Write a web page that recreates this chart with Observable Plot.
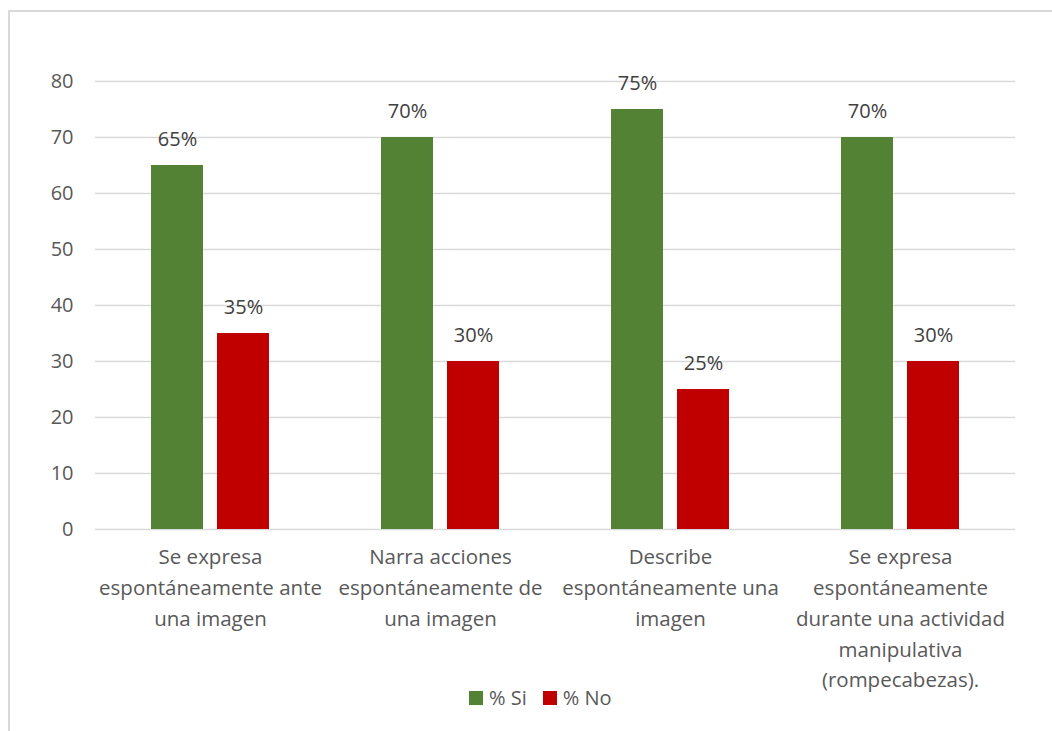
<!DOCTYPE html>
<html><head><meta charset="utf-8">
<script src="https://cdn.jsdelivr.net/npm/d3@7"></script>
<script src="https://cdn.jsdelivr.net/npm/@observablehq/plot@0.6"></script>
<style>
body{margin:0;background:#fff;font-family:"Open Sans",sans-serif;overflow:hidden;}
#frame{position:absolute;left:8px;top:10px;width:1100px;height:800px;border-top:2px solid #d9d9d9;border-left:2px solid #d9d9d9;}
#chart{position:absolute;left:0;top:0;}
#legend{position:absolute;top:684px;left:469px;display:flex;align-items:center;font-size:20px;color:#595959;font-family:"Open Sans",sans-serif;z-index:2;}
#legend .sw{width:14px;height:14px;display:inline-block;margin-right:6px;}
#legend .it{display:flex;align-items:center;margin-right:16px;}
</style></head>
<body>
<div id="frame"></div>
<div id="chart"></div>
<div id="legend"></div>
<script>
const categories = [
  "Se expresa\nespontáneamente ante\nuna imagen",
  "Narra acciones\nespontáneamente de\nuna imagen",
  "Describe\nespontáneamente una\nimagen",
  "Se expresa\nespontáneamente\ndurante una actividad\nmanipulativa\n(rompecabezas)."
];
const series = ["% Si", "% No"];
const colors = ["#548235", "#C00000"];
const si = [65, 70, 75, 70];
const no = [35, 30, 25, 30];
const yTicks = [0, 10, 20, 30, 40, 50, 60, 70, 80];

const data = categories.flatMap((c, i) => [
  {cat: c, s: series[0], v: si[i]},
  {cat: c, s: series[1], v: no[i]}
]);

const chart = Plot.plot({
  width: 1052, height: 731,
  marginLeft: 95, marginRight: 37, marginTop: 81, marginBottom: 202,
  style: {fontFamily: "Open Sans", fontSize: "20px", color: "#595959", background: "transparent"},
  fx: {domain: categories, padding: 0, axis: null, label: null},
  x: {domain: series, axis: null, paddingInner: 0.21, paddingOuter: 0.84},
  y: {domain: [0, 80], ticks: yTicks, axis: "left", label: null, tickSize: 0, tickPadding: 22, fontSize: 20},
  color: {domain: series, range: colors},
  marks: [
    Plot.ruleY(yTicks, {y: d => d, stroke: "#d9d9d9", strokeWidth: 1.5}),
    Plot.barY(data, {fx: "cat", x: "s", y: "v", fill: "s"}),
    Plot.text(data, {fx: "cat", x: "s", y: "v", text: d => d.v + "%", dy: -26, fill: "#404040", fontSize: 20}),
    Plot.axisFx({anchor: "bottom", tickSize: 0, tickPadding: 13, lineHeight: 1.5, fontSize: 20.5, label: null, fill: "#595959"})
  ]
});
document.getElementById("chart").append(chart);

const lg = document.getElementById("legend");
series.forEach((s, i) => {
  const it = document.createElement("span");
  it.className = "it";
  it.innerHTML = `<span class="sw" style="background:${colors[i]}"></span>${s}`;
  lg.append(it);
});
</script>
</body></html>
